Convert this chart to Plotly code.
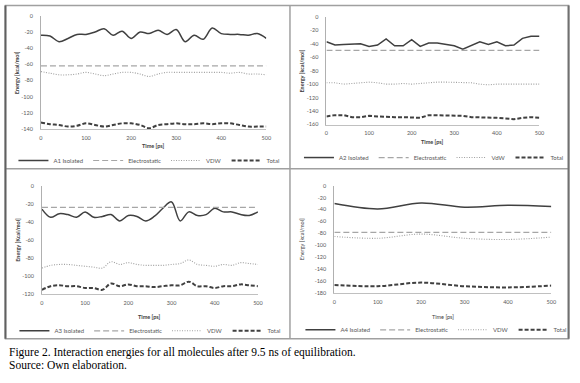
import plotly.graph_objects as go

W, H = 580, 383

# ---------------- data ----------------
time_ps = [0, 20, 40, 60, 80, 100, 120, 140, 160, 180, 200, 220, 240,
           260, 280, 300, 320, 340, 360, 380, 400, 420, 440, 460, 480, 500]
time_ps_a4 = [0, 100, 200, 300, 400, 500]

a1_isolated = [-24, -25, -32, -28, -23, -23, -20, -16, -24, -19, -28, -20, -22,
               -18, -23, -17, -32, -24, -29, -15, -22, -23, -23, -24, -22, -28]
a1_electrostatic = [-62, -62, -62, -62, -62, -62, -62, -62, -62, -62, -62, -62, -62,
                    -62, -62, -62, -62, -62, -62, -62, -62, -62, -62, -62, -62, -62]
a1_vdw = [-69, -71, -73, -73, -72, -70, -72, -74, -72, -70, -70, -72, -75,
          -72, -70, -70, -70, -70, -70, -70, -70, -71, -70, -72, -72, -73]
a1_total = [-132, -134, -135, -137, -136, -133, -135, -137, -135, -133, -133, -135, -139,
            -135, -134, -133, -134, -134, -133, -134, -133, -133, -135, -137, -137, -137]

a2_isolated = [-37, -42, -41, -40, -40, -44, -42, -33, -43, -43, -34, -44, -39,
               -39, -41, -43, -48, -43, -37, -41, -37, -43, -42, -32, -29, -29]
a2_electrostatic = [-50, -50, -50, -50, -50, -50, -50, -50, -50, -50, -50, -50, -50,
                    -50, -50, -50, -50, -50, -50, -50, -50, -50, -50, -50, -50, -50]
a2_vdw = [-98, -98, -100, -99, -98, -97, -98, -100, -100, -99, -100, -99, -97,
          -97, -97, -97, -97, -98, -100, -101, -100, -100, -101, -100, -100, -100]
a2_total = [-148, -146, -146, -149, -149, -147, -148, -149, -149, -149, -149, -150, -146,
            -146, -146, -146, -147, -149, -149, -150, -150, -151, -152, -150, -149, -150]

a3_isolated = [-26, -35, -31, -32, -35, -29, -35, -34, -32, -39, -33, -34, -39,
               -34, -25, -18, -39, -29, -33, -32, -25, -29, -29, -32, -33, -29]
a3_electrostatic = [-24, -24, -24, -24, -24, -24, -24, -24, -24, -24, -24, -24, -24,
                    -24, -24, -24, -24, -24, -24, -24, -24, -24, -24, -24, -24, -24]
a3_vdw = [-91, -88, -87, -87, -88, -89, -90, -91, -84, -87, -85, -87, -88,
          -88, -88, -87, -86, -82, -87, -88, -89, -87, -88, -85, -86, -87]
a3_total = [-115, -111, -110, -111, -111, -113, -113, -115, -108, -111, -109, -111, -111,
            -112, -111, -110, -110, -106, -111, -111, -113, -111, -111, -109, -110, -111]

a4_isolated = [-30, -39, -29, -36, -33, -35]
a4_electrostatic = [-78, -78, -78, -78, -78, -78]
a4_vdw = [-85, -88, -81, -88, -90, -86]
a4_total = [-166, -168, -162, -168, -170, -167]

x_ticks = [0, 100, 200, 300, 400, 500]
y_ticks_1 = [0, -20, -40, -60, -80, -100, -120, -140]
y_ticks_2 = [0, -20, -40, -60, -80, -100, -120, -140, -160]
y_ticks_3 = [0, -20, -40, -60, -80, -100, -120]
y_ticks_4 = [0, -20, -40, -60, -80, -100, -120, -140, -160, -180]

caption_1 = "Figure 2. Interaction energies for all molecules after 9.5 ns of equilibration."
caption_2 = "Source: Own elaboration."

# ---------------- layout helpers ----------------
def fx(p):
    return p / W


def fy(p):
    return 1 - p / H


FONT = "Lato, 'Liberation Sans', sans-serif"
TXT = "#595959"

panels = [
    dict(name="A1 Isolated", t=time_ps, iso=a1_isolated, el=a1_electrostatic, vdw=a1_vdw, tot=a1_total,
         vdw_name="VDW", shape="spline", yt=y_ticks_1, dom_x=(39.5, 268), dom_y=(13, 128),
         ytitle="Energy [kcal/mol]", ytx=16, xtitle_y=145, leg=(149, 160), bold=True),
    dict(name="A2 Isolated", t=time_ps, iso=a2_isolated, el=a2_electrostatic, vdw=a2_vdw, tot=a2_total,
         vdw_name="VdW", shape="linear", yt=y_ticks_2, dom_x=(329, 545), dom_y=(14, 123.5),
         ytitle="Energy [kcal/mol]", ytx=304, xtitle_y=141, leg=(438, 157), bold=True),
    dict(name="A3 Isolated", t=time_ps, iso=a3_isolated, el=a3_electrostatic, vdw=a3_vdw, tot=a3_total,
         vdw_name="VDW", shape="spline", yt=y_ticks_3, dom_x=(40.5, 259.5), dom_y=(185.5, 296),
         ytitle="Energy [Kcal/mol]", ytx=16, xtitle_y=319, leg=(150, 333), bold=True),
    dict(name="A4 Isolated", t=time_ps_a4, iso=a4_isolated, el=a4_electrostatic, vdw=a4_vdw, tot=a4_total,
         vdw_name="VDW", shape="spline", yt=y_ticks_4, dom_x=(337, 557), dom_y=(185.5, 295),
         ytitle="Energy [kcal/mol]", ytx=305, xtitle_y=319, leg=(440, 332), bold=False),
]

fig = go.Figure()
layout = dict(
    width=W, height=H,
    margin=dict(l=0, r=0, t=0, b=0),
    paper_bgcolor="white", plot_bgcolor="white",
    font=dict(family=FONT, color=TXT, size=6),
    annotations=[], shapes=[],
)

for i, p in enumerate(panels, start=1):
    xa = "x" if i == 1 else f"x{i}"
    ya = "y" if i == 1 else f"y{i}"
    lg = "legend" if i == 1 else f"legend{i}"
    common = dict(x=p["t"], xaxis=xa, yaxis=ya, legend=lg, mode="lines", hoverinfo="skip")
    fig.add_trace(go.Scatter(y=p["iso"], name=p["name"],
                             line=dict(color="#404040", width=1.5, shape=p["shape"]), **common))
    fig.add_trace(go.Scatter(y=p["el"], name="Electrostatic",
                             line=dict(color="#a6a6a6", width=1.2, dash="6px,3px"), **common))
    fig.add_trace(go.Scatter(y=p["vdw"], name=p["vdw_name"],
                             line=dict(color="#a0a0a0", width=1.1, dash="1px,1.5px", shape=p["shape"]), **common))
    fig.add_trace(go.Scatter(y=p["tot"], name="Total",
                             line=dict(color="#404040", width=2, dash="4px,2px", shape=p["shape"]), **common))

    xkey = "xaxis" if i == 1 else f"xaxis{i}"
    ykey = "yaxis" if i == 1 else f"yaxis{i}"
    layout[xkey] = dict(
        domain=[fx(p["dom_x"][0]), fx(p["dom_x"][1])], anchor=ya,
        range=[0, 500], tickvals=x_ticks, ticktext=[str(v) for v in x_ticks],
        showgrid=False, zeroline=False, showline=True, linecolor="#c0c0c0", linewidth=1,
        ticks="", ticklabelstandoff=3, tickfont=dict(size=5.5, color=TXT), fixedrange=True,
    )
    layout[ykey] = dict(
        domain=[fy(p["dom_y"][1]), fy(p["dom_y"][0])], anchor=xa,
        range=[p["yt"][-1], 0], tickvals=p["yt"], ticktext=[str(v) for v in p["yt"]],
        showgrid=False, zeroline=False, showline=True, linecolor="#b0b0b0", linewidth=1,
        ticks="", ticklabelstandoff=6, tickfont=dict(size=5.5, color=TXT), fixedrange=True,
    )
    layout[lg] = dict(
        orientation="h", x=fx(p["leg"][0]), y=fy(p["leg"][1]), xanchor="center", yanchor="middle",
        xref="paper", yref="paper", bgcolor="rgba(0,0,0,0)", borderwidth=0,
        font=dict(size=6, color=TXT, family=FONT), itemwidth=30,
    )
    wt = "bold" if p["bold"] else "normal"
    layout["annotations"].append(dict(
        text=p["ytitle"], x=fx(p["ytx"]), y=fy((p["dom_y"][0] + p["dom_y"][1]) / 2),
        xref="paper", yref="paper", showarrow=False, textangle=-90,
        font=dict(size=5.5, color="#404040", family=FONT, weight=wt),
        xanchor="center", yanchor="middle"))
    layout["annotations"].append(dict(
        text="Time [ps]", x=fx((p["dom_x"][0] + p["dom_x"][1]) / 2), y=fy(p["xtitle_y"]),
        xref="paper", yref="paper", showarrow=False,
        font=dict(size=5.5, color="#404040", family=FONT, weight=wt),
        xanchor="center", yanchor="middle"))

# panel frames
frame = "#a0a0a0"
BOT = 341
layout["shapes"] += [
    dict(type="rect", xref="paper", yref="paper", x0=fx(3.5), x1=fx(574.5), y0=fy(BOT), y1=fy(2.5),
         line=dict(color=frame, width=1.5)),
    dict(type="line", xref="paper", yref="paper", x0=fx(292), x1=fx(292), y0=fy(BOT), y1=fy(2.5),
         line=dict(color=frame, width=1.5)),
    dict(type="line", xref="paper", yref="paper", x0=fx(3.5), x1=fx(574.5), y0=fy(168.5), y1=fy(168.5),
         line=dict(color=frame, width=1.5)),
    dict(type="line", xref="paper", yref="paper", x0=fx(3.5), x1=fx(3.5), y0=fy(BOT), y1=fy(2.5),
         line=dict(color="#606060", width=2)),
    dict(type="line", xref="paper", yref="paper", x0=fx(574.5), x1=fx(574.5), y0=fy(BOT), y1=fy(2.5),
         line=dict(color="#707070", width=2)),
]

layout["annotations"] += [
    dict(text=caption_1, x=fx(5), y=fy(355), xref="paper", yref="paper", showarrow=False,
         xanchor="left", yanchor="middle", font=dict(size=11.5, color="black", family="Liberation Serif")),
    dict(text=caption_2, x=fx(5), y=fy(368), xref="paper", yref="paper", showarrow=False,
         xanchor="left", yanchor="middle", font=dict(size=11.5, color="black", family="Liberation Serif")),
]

fig.update_layout(**layout)
fig.write_html("out.html", config={"displayModeBar": False},
               post_script="document.body.style.margin='0';document.body.style.overflow='hidden';")
